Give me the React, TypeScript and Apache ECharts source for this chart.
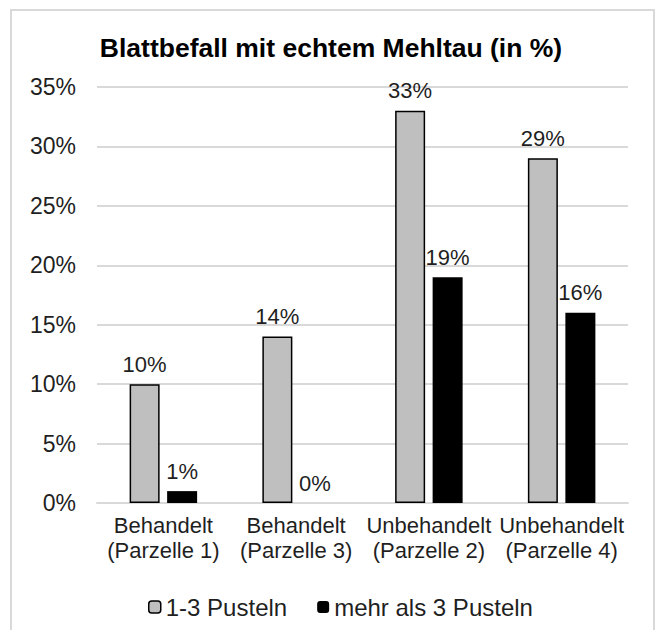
import React, { useEffect, useRef } from "react";
import * as echarts from "echarts";

const categories = [
  "Behandelt\n(Parzelle 1)",
  "Behandelt\n(Parzelle 3)",
  "Unbehandelt\n(Parzelle 2)",
  "Unbehandelt\n(Parzelle 4)",
];
const seriesNames = ["1-3 Pusteln", "mehr als 3 Pusteln"];
const values13 = [10, 14, 33, 29];
const valuesMore3 = [1, 0, 19, 16];
const titleText = "Blattbefall mit echtem Mehltau (in %)";

const FONT = "'Liberation Sans', Arial, sans-serif";

export default function App() {
  const ref = useRef<HTMLDivElement>(null);
  useEffect(() => {
    if (!ref.current) return;
    const chart = echarts.init(ref.current, null, { renderer: "svg" });
    const labelStyle = {
      show: true,
      position: "top" as const,
      distance: 9,
      formatter: "{c}%",
      color: "#1f1f1f",
      fontFamily: FONT,
      fontSize: 22,
    };
    chart.setOption({
      animation: false,
      backgroundColor: "#ffffff",
      textStyle: { fontFamily: FONT },
      title: {
        text: titleText,
        left: 326,
        textAlign: "center",
        top: 29,
        textStyle: { fontFamily: FONT, fontSize: 26.5, fontWeight: "bold", color: "#000" },
      },
      graphic: [
        {
          type: "rect",
          shape: { x: 11, y: 10, width: 643, height: 660 },
          style: { fill: "none", stroke: "#d9d9d9", lineWidth: 2 },
          silent: true,
        },
      ],
      grid: { left: 97, right: 29, top: 87, bottom: 127 },
      legend: {
        left: 143,
        top: 590,
        itemWidth: 12,
        itemHeight: 12,
        itemGap: 30,
        textStyle: { fontFamily: FONT, fontSize: 24, color: "#1f1f1f" },
        data: [
          { name: seriesNames[0], itemStyle: { color: "#bfbfbf", borderColor: "#000", borderWidth: 1.5 } },
          { name: seriesNames[1], itemStyle: { color: "#000" } },
        ],
      },
      xAxis: {
        type: "category",
        data: categories,
        axisLine: { lineStyle: { color: "#d9d9d9", width: 2 } },
        axisTick: { show: false },
        axisLabel: {
          fontFamily: FONT,
          fontSize: 22,
          color: "#1f1f1f",
          lineHeight: 25,
          margin: 10,
          interval: 0,
        },
      },
      yAxis: {
        type: "value",
        min: 0,
        max: 35,
        interval: 5,
        axisLine: { show: false },
        axisTick: { show: false },
        splitLine: { lineStyle: { color: "#d9d9d9", width: 2 } },
        axisLabel: {
          formatter: "{value}%",
          fontFamily: FONT,
          fontSize: 23,
          color: "#1f1f1f",
          margin: 21,
        },
      },
      series: [
        {
          name: seriesNames[0],
          type: "bar",
          data: values13,
          barWidth: 30,
          barGap: "25%",
          itemStyle: { color: "#bfbfbf", borderColor: "#000", borderWidth: 1.5 },
          label: labelStyle,
        },
        {
          name: seriesNames[1],
          type: "bar",
          data: valuesMore3,
          barWidth: 30,
          itemStyle: { color: "#000" },
          label: labelStyle,
        },
      ],
    });
    return () => chart.dispose();
  }, []);
  return (
    <div
      ref={ref}
      style={{ position: "absolute", left: 0, top: 0, width: 657, height: 630 }}
    />
  );
}
